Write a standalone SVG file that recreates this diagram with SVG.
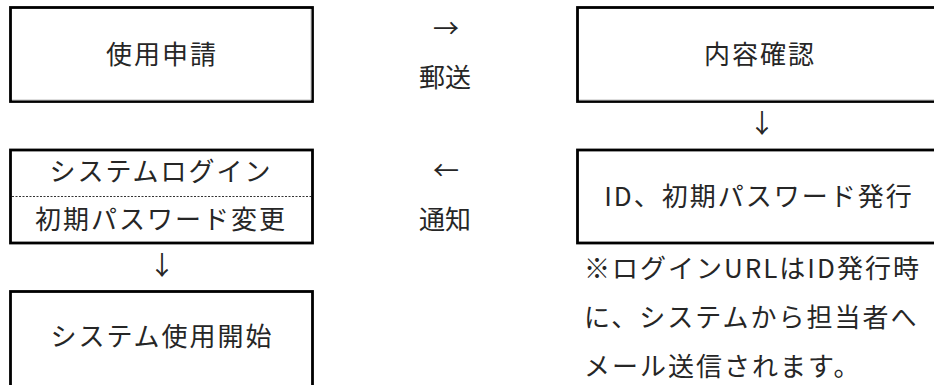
<svg xmlns="http://www.w3.org/2000/svg" width="934" height="385" viewBox="0 0 934 385">
<style>
.box{fill:#fff;stroke:#000;stroke-width:2.8}
.inner{stroke:#bdbdbd;stroke-width:1;fill:none}
.t{font-family:"Noto Sans CJK JP","Noto Sans",sans-serif;font-size:26px;fill:#262626;letter-spacing:2px}
.c{text-anchor:middle}
.a{letter-spacing:0}
.dot{stroke:#333;stroke-width:1;stroke-dasharray:2 1.5}
</style>
<rect width="934" height="385" fill="#fff"/>
<g id="node-shinsei">
<rect class="box" x="10.5" y="7.5" width="302" height="94"/>
<path class="inner" d="M311 9V100H12"/>
<text class="t c" x="162" y="64">使用申請</text>
</g>
<g id="node-kakunin">
<rect class="box" x="577.5" y="7.5" width="380" height="94"/>
<path class="inner" d="M579 100H934"/>
<text class="t c" x="760" y="64">内容確認</text>
</g>
<g id="node-hakko">
<rect class="box" x="577.5" y="150" width="380" height="93"/>
<text class="t c" x="759" y="206">ID、初期パスワード発行</text>
</g>
<g id="node-login">
<rect class="box" x="10.5" y="150" width="302" height="93"/>
<line class="dot" x1="12" y1="196.5" x2="311" y2="196.5"/>
<text class="t c" x="161" y="181">システムログイン</text>
<text class="t c" x="161" y="229">初期パスワード変更</text>
</g>
<g id="node-kaishi">
<rect class="box" x="10.5" y="291.5" width="302" height="120"/>
<text class="t c" x="162" y="346">システム使用開始</text>
</g>
<g id="note">
<text class="t" x="584" y="278">※ログインURLはID発行時</text>
<text class="t" x="584" y="327">に、システムから担当者へ</text>
<text class="t" x="584" y="376">メール送信されます。</text>
</g>
<g id="connectors">
<text class="t c a" x="446" y="38">→</text>
<text class="t c a" x="445" y="87">郵送</text>
<text class="t c a" x="762" y="133">↓</text>
<text class="t c a" x="446" y="180">←</text>
<text class="t c a" x="445" y="229">通知</text>
<text class="t c a" x="162" y="275">↓</text>
</g>
</svg>
